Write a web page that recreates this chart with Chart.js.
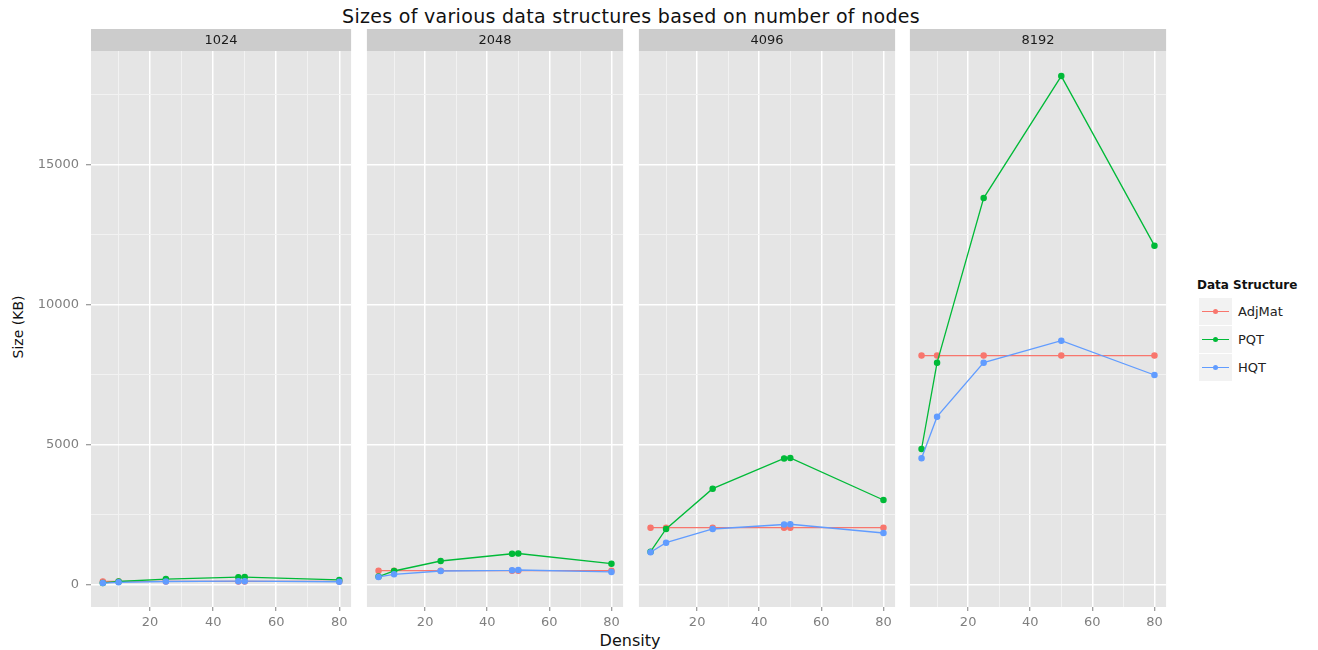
<!DOCTYPE html>
<html>
<head>
<meta charset="utf-8">
<script src="https://cdn.jsdelivr.net/npm/chart.js@4"></script>
<style>
  body { margin: 0; background: #fff; font-family: "DejaVu Sans", "Liberation Sans", Arial, sans-serif; }
  #wrap { position: relative; width: 1318px; height: 650px; overflow: hidden; }
  #wrap canvas { position: absolute; top: 0; }
  .txt { position: absolute; white-space: nowrap; }
  .key { position: absolute; left: 1199px; width: 33px; height: 27px; background: #F2F2F2; }
  .key i { position: absolute; left: 3px; right: 3px; top: 13px; height: 1px; }
  .key b { position: absolute; left: 14px; top: 11px; width: 5px; height: 5px; border-radius: 50%; }
  .lab { position: absolute; left: 1238px; font-size: 13px; color: #222; }
</style>
</head>
<body>
<div id="wrap">
  <div class="txt" style="left:0;width:1262px;top:5px;text-align:center;font-size:19px;letter-spacing:0.3px;color:#111;">Sizes of various data structures based on number of nodes</div>
  <div class="txt" style="left:18px;top:327px;transform:translate(-50%,-50%) rotate(-90deg);font-size:14px;color:#111;">Size (KB)</div>
  <div class="txt" style="left:630px;top:631px;transform:translateX(-50%);font-size:16px;color:#111;">Density</div>
  <div class="txt" style="left:1197px;top:278px;font-size:12px;font-weight:bold;color:#111;">Data Structure</div>
  <div id="legend"></div>
</div>
<script>
// facets (number of nodes) and density values per facet
const panels = ['1024', '2048', '4096', '8192'];
const density = [
  [5, 10, 25, 48, 50, 80],
  [5, 10, 25, 48, 50, 80],
  [5, 10, 25, 48, 50, 80],
  [5, 10, 25, 50, 80]
];

// sizes in KB
const adjMat = [
  [128, 128, 128, 128, 128, 128],
  [512, 512, 512, 512, 512, 512],
  [2048, 2048, 2048, 2048, 2048, 2048],
  [8192, 8192, 8192, 8192, 8192]
];
const pqt = [
  [75, 125, 210, 278, 282, 180],
  [300, 500, 857, 1115, 1125, 760],
  [1190, 2000, 3440, 4520, 4535, 3035],
  [4857, 7940, 13820, 18175, 12118]
];
const hqt = [
  [70, 95, 125, 135, 137, 116],
  [286, 380, 500, 525, 535, 465],
  [1170, 1510, 2000, 2160, 2170, 1857],
  [4524, 6011, 7940, 8725, 7500]
];

const seriesNames = ['AdjMat', 'PQT', 'HQT'];
const seriesColors = ['#F8766D', '#00BA38', '#619CFF'];

// major ticks get labels, minor ones only a thin grid line
const yMajor = [0, 5000, 10000, 15000];
const yMinor = [2500, 7500, 12500, 17500];
const xMajor = [20, 40, 60, 80];
const xMinor = [10, 30, 50, 70];

const panelLeft = [91, 363, 635, 906];
const panelWidth = 264;
const tickFont = { family: '"DejaVu Sans", "Liberation Sans", Arial, sans-serif', size: 13 };

// grey panel background + facet strip
const facetPlugin = {
  id: 'facet',
  beforeDraw(chart, args, opts) {
    const { ctx, chartArea: a } = chart;
    ctx.save();
    ctx.fillStyle = '#E5E5E5';
    ctx.fillRect(a.left, a.top, a.right - a.left, a.bottom - a.top);
    ctx.fillStyle = '#CCCCCC';
    ctx.fillRect(a.left, 29, a.right - a.left, a.top - 29);
    ctx.fillStyle = '#1A1A1A';
    ctx.font = '13px "DejaVu Sans", "Liberation Sans", Arial, sans-serif';
    ctx.textAlign = 'center';
    ctx.textBaseline = 'middle';
    ctx.fillText(opts.label, (a.left + a.right) / 2, 40.5);
    ctx.restore();
  }
};

const setTicks = (major, minor) => s => {
  s.ticks = major.concat(minor).sort((a, b) => a - b).map(v => ({ value: v }));
};
const isMajor = (list, c) => c.tick && list.includes(c.tick.value);

const wrap = document.getElementById('wrap');

panels.forEach((name, p) => {
  const first = p === 0;
  const yW = first ? 91 : 0;
  const canvas = document.createElement('canvas');
  canvas.width = yW + panelWidth;
  canvas.height = 650;
  canvas.style.left = (panelLeft[p] - yW) + 'px';
  wrap.appendChild(canvas);

  const sets = [adjMat[p], pqt[p], hqt[p]].map((vals, s) => ({
    label: seriesNames[s],
    data: density[p].map((d, i) => ({ x: d, y: vals[i] })),
    borderColor: seriesColors[s],
    backgroundColor: seriesColors[s],
    borderWidth: 1.3,
    pointRadius: 2.6,
    pointHoverRadius: 2.6,
    order: 3 - s
  }));

  new Chart(canvas, {
    type: 'line',
    data: { datasets: sets },
    plugins: [facetPlugin],
    options: {
      responsive: false,
      animation: false,
      devicePixelRatio: 1,
      layout: { padding: { top: 51, left: 0, right: 0, bottom: 0 } },
      plugins: {
        legend: { display: false },
        tooltip: { enabled: false },
        facet: { label: name }
      },
      scales: {
        x: {
          type: 'linear',
          min: 1.25,
          max: 83.75,
          afterBuildTicks: setTicks(xMajor, xMinor),
          afterFit: s => { s.height = 43; },
          border: { display: false },
          grid: {
            color: c => isMajor(xMajor, c) ? '#FFFFFF' : '#F2F2F2',
            lineWidth: c => isMajor(xMajor, c) ? 1.5 : 1,
            tickColor: c => isMajor(xMajor, c) ? '#7F7F7F' : 'rgba(0,0,0,0)',
            tickLength: 4,
            tickWidth: 1
          },
          ticks: {
            autoSkip: false,
            maxRotation: 0,
            padding: 4,
            color: '#7F7F7F',
            font: tickFont,
            callback: v => xMajor.includes(v) ? v : ''
          }
        },
        y: {
          min: -786,
          max: 19071,
          afterBuildTicks: setTicks(yMajor, yMinor),
          afterFit: s => { s.width = yW; },
          border: { display: false },
          grid: {
            color: c => isMajor(yMajor, c) ? '#FFFFFF' : '#F2F2F2',
            lineWidth: c => isMajor(yMajor, c) ? 1.5 : 1,
            drawTicks: first,
            tickColor: c => isMajor(yMajor, c) ? '#7F7F7F' : 'rgba(0,0,0,0)',
            tickLength: 5,
            tickWidth: 1
          },
          ticks: {
            display: first,
            autoSkip: false,
            padding: 7,
            color: '#7F7F7F',
            font: tickFont,
            callback: v => yMajor.includes(v) ? v : ''
          }
        }
      }
    }
  });
});

// legend keys
const legend = document.getElementById('legend');
seriesNames.forEach((n, s) => {
  const top = 298 + s * 28;
  legend.insertAdjacentHTML('beforeend',
    `<div class="key" style="top:${top}px"><i style="background:${seriesColors[s]}"></i><b style="background:${seriesColors[s]}"></b></div>` +
    `<div class="lab" style="top:${top + 6}px">${n}</div>`);
});
</script>
</body>
</html>
